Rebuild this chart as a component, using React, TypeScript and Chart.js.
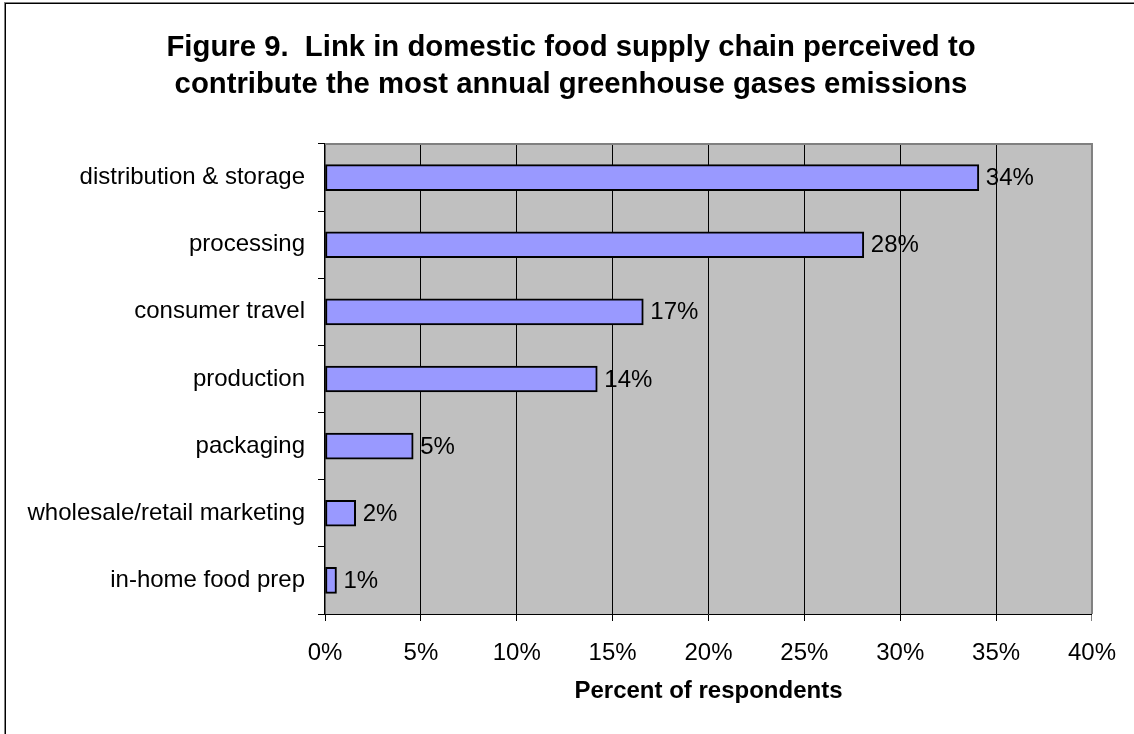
import React, { useEffect, useRef } from "react";
import { Chart, registerables } from "chart.js";

Chart.register(...registerables);

const titleLines = [
  "Figure 9.  Link in domestic food supply chain perceived to",
  "contribute the most annual greenhouse gases emissions",
];
const categories = [
  "distribution & storage",
  "processing",
  "consumer travel",
  "production",
  "packaging",
  "wholesale/retail marketing",
  "in-home food prep",
];
const percentValues = [34.1, 28.1, 16.6, 14.2, 4.6, 1.6, 0.6];
const valueLabels = ["34%", "28%", "17%", "14%", "5%", "2%", "1%"];
const xAxisTitle = "Percent of respondents";
const xMin = 0;
const xMax = 40;
const xStep = 5;

const FONT = "'Liberation Sans', Arial, sans-serif";

const decorPlugin = {
  id: "decor",
  beforeDraw(chart: any) {
    const { ctx, chartArea: a } = chart;
    ctx.save();
    ctx.fillStyle = "#ffffff";
    ctx.fillRect(0, 0, chart.width, chart.height);
    ctx.fillStyle = "#C0C0C0";
    ctx.fillRect(a.left, a.top, a.right - a.left, a.bottom - a.top);
    ctx.strokeStyle = "#808080";
    ctx.lineWidth = 1;
    ctx.strokeRect(4.5, 2.5, chart.width + 20, chart.height + 20);
    ctx.strokeStyle = "#000000";
    ctx.strokeRect(5.5, 3.5, chart.width + 20, chart.height + 20);
    // title
    ctx.fillStyle = "#000";
    ctx.font = `bold 29.3px ${FONT}`;
    ctx.textAlign = "center";
    ctx.textBaseline = "alphabetic";
    ctx.fillText(titleLines[0], 571, 56);
    ctx.fillText(titleLines[1], 571, 92.5);
    ctx.restore();
  },
  beforeDatasetsDraw(chart: any) {
    const { ctx, chartArea: a } = chart;
    ctx.save();
    ctx.strokeStyle = "#808080";
    ctx.lineWidth = 2;
    ctx.beginPath();
    ctx.moveTo(a.left, a.top);
    ctx.lineTo(a.right, a.top);
    ctx.lineTo(a.right, a.bottom);
    ctx.stroke();
    ctx.restore();
  },
  afterDatasetsDraw(chart: any) {
    const { ctx } = chart;
    const meta = chart.getDatasetMeta(0);
    ctx.save();
    ctx.fillStyle = "#000";
    ctx.font = `24px ${FONT}`;
    ctx.textAlign = "left";
    ctx.textBaseline = "middle";
    meta.data.forEach((bar: any, i: number) => {
      ctx.fillText(valueLabels[i], bar.x + 7, bar.y + 1);
    });
    ctx.restore();
  },
};

export default function App() {
  const ref = useRef<HTMLCanvasElement>(null);
  useEffect(() => {
    if (!ref.current) return;
    const chart = new Chart(ref.current, {
      type: "bar",
      data: {
        labels: categories,
        datasets: [
          {
            data: percentValues,
            backgroundColor: "#9999FF",
            borderColor: "#000000",
            borderWidth: 2,
            borderSkipped: false,
            barThickness: 26,
          },
        ],
      },
      options: {
        indexAxis: "y",
        animation: false,
        responsive: false,
        maintainAspectRatio: false,
        layout: { padding: { left: 0, right: 42, top: 144, bottom: 0 } },
        plugins: {
          legend: { display: false },
          tooltip: { enabled: false },
          title: { display: false },
        },
        scales: {
          x: {
            type: "linear",
            position: "bottom",
            min: xMin,
            max: xMax,
            ticks: {
              stepSize: xStep,
              callback: (v: any) => v + "%",
              color: "#000",
              font: { family: FONT, size: 24 },
              padding: 18,
              maxRotation: 0,
              autoSkip: false,
            },
            grid: {
              color: (c: any) =>
                c.tick && (c.tick.value === xMin || c.tick.value === xMax) ? "rgba(0,0,0,0)" : "#000",
              lineWidth: 1,
              drawTicks: true,
              tickLength: 7,
              tickColor: (c: any) => (c.tick && c.tick.value === xMax ? "#808080" : "#000"),
            },
            border: { display: true, color: "#000", width: 1 },
            title: {
              display: true,
              text: xAxisTitle,
              color: "#000",
              font: { family: FONT, size: 24, weight: "bold" },
              padding: { top: 0, bottom: 28 },
            },
            afterFit: (s: any) => {
              s.height = 120;
            },
          },
          y: {
            type: "category",
            ticks: {
              color: "#000",
              font: { family: FONT, size: 24 },
              padding: 13,
              autoSkip: false,
            },
            grid: {
              offset: true,
              drawOnChartArea: false,
              drawTicks: true,
              tickLength: 7,
              tickColor: "#000",
            },
            border: { display: true, color: "#000", width: 1.5 },
            afterFit: (s: any) => {
              s.width = 325;
            },
          },
        },
      },
      plugins: [decorPlugin],
    } as any);
    return () => chart.destroy();
  }, []);
  return (
    <div style={{ position: "absolute", left: 0, top: 0, width: 1134, height: 734 }}>
      <canvas ref={ref} width={1134} height={734} style={{ width: 1134, height: 734, display: "block" }} />
    </div>
  );
}
